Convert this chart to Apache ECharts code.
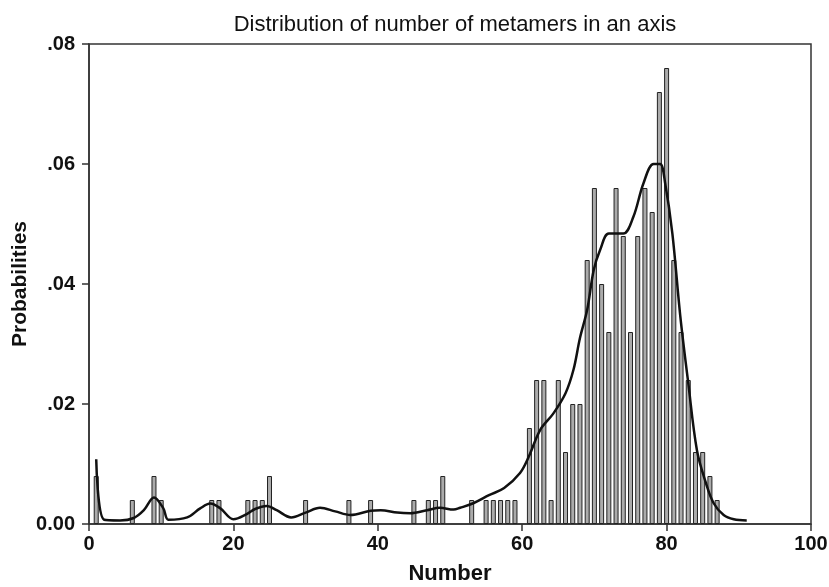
<!DOCTYPE html>
<html>
<head>
<meta charset="utf-8">
<script src="https://cdn.jsdelivr.net/npm/echarts@6/dist/echarts.min.js"></script>
<style>html,body{margin:0;padding:0;background:#fff;}#c{width:829px;height:587px;}</style>
</head>
<body>
<div id="c"></div>
<script>
// Histogram bars: number of metamers and probability
const barNumbers = [1,6,9,10,17,18,22,23,24,25,30,36,39,45,47,48,49,53,55,56,57,58,59,
  61,62,63,64,65,66,67,68,69,70,71,72,73,74,75,76,77,78,79,80,81,82,83,84,85,86,87];
const barProbs = [0.008,0.004,0.008,0.004,0.004,0.004,0.004,0.004,0.004,0.008,0.004,0.004,0.004,0.004,0.004,0.004,0.008,0.004,0.004,0.004,0.004,0.004,0.004,
  0.016,0.024,0.024,0.004,0.024,0.012,0.020,0.020,0.044,0.056,0.040,0.032,0.056,0.048,0.032,0.048,0.056,0.052,0.072,0.076,0.044,0.032,0.024,0.012,0.012,0.008,0.004];
// Density curve
const curveX = [1.0,2.1,4.3,6.2,7.6,9.0,10.3,11.0,13.6,15.4,16.8,18.2,20.0,21.9,23.0,24.6,26.0,28.0,30.0,32.0,34.1,36.2,39.0,40.4,42.7,44.5,46.8,48.6,50.5,51.4,53.3,55.4,57.5,59.7,60.9,62.5,64.3,66.0,67.1,68.0,69.0,69.9,70.8,72.0,74.0,75.4,76.8,78.2,79.1,79.8,80.8,81.9,83.0,84.2,85.4,86.5,87.9,89.3,91.1];
const curveY = [0.0108,0.0007,0.0006,0.0010,0.0023,0.0044,0.0026,0.0007,0.0011,0.0026,0.0034,0.0026,0.0008,0.0017,0.0025,0.0030,0.0023,0.0011,0.0019,0.0027,0.0021,0.0015,0.0022,0.0023,0.0019,0.0018,0.0023,0.0027,0.0024,0.0027,0.0035,0.0048,0.0060,0.0085,0.0112,0.0157,0.0184,0.0218,0.0257,0.0310,0.0357,0.0423,0.0457,0.0484,0.0484,0.0512,0.0568,0.0600,0.0600,0.0568,0.0484,0.0346,0.0235,0.0123,0.0070,0.0035,0.0015,0.0008,0.0006];
const titleText = 'Distribution of number of metamers in an axis';
const xName = 'Number';
const yName = 'Probabilities';

const chart = echarts.init(document.getElementById('c'), null, {renderer: 'canvas'});
const font = 'Liberation Sans, Arial, sans-serif';
chart.setOption({
  animation: false,
  backgroundColor: '#fff',
  title: {
    text: titleText, left: 450, top: 9, textAlign: 'center',
    textStyle: {fontFamily: font, fontSize: 22, fontWeight: 'normal', color: '#111'}
  },
  grid: {left: 89, right: 18, top: 44, bottom: 63, containLabel: false, outerBoundsMode: 'none',
    show: true, borderColor: '#333', borderWidth: 1.5},
  xAxis: {
    type: 'value', min: 0, max: 100, interval: 20,
    name: xName, nameLocation: 'middle', nameGap: 39, nameMoveOverlap: false,
    nameTextStyle: {fontFamily: font, fontSize: 22, fontWeight: 'bold', color: '#111'},
    axisLine: {show: true, lineStyle: {color: '#333', width: 1.5}},
    axisTick: {show: true, length: 7, lineStyle: {color: '#333', width: 1.5}},
    axisLabel: {fontFamily: font, fontSize: 20, fontWeight: 'bold', color: '#111', margin: 10},
    splitLine: {show: false}
  },
  yAxis: {
    type: 'value', min: 0, max: 0.08, interval: 0.02,
    name: yName, nameLocation: 'middle', nameGap: 58, nameRotate: 90, nameMoveOverlap: false,
    nameTextStyle: {fontFamily: font, fontSize: 21, fontWeight: 'bold', color: '#111'},
    axisLine: {show: true, lineStyle: {color: '#333', width: 1.5}},
    axisTick: {show: true, length: 7, lineStyle: {color: '#333', width: 1.5}},
    axisLabel: {fontFamily: font, fontSize: 20, fontWeight: 'bold', color: '#111', margin: 14,
      formatter: v => v === 0 ? '0.00' : v.toFixed(2).replace(/^0/, '')},
    splitLine: {show: false}
  },
  series: [
    {
      type: 'bar', barWidth: 5,
      data: barNumbers.map((x, i) => [x, barProbs[i]]),
      itemStyle: {color: '#ababab', borderColor: '#222', borderWidth: 1}
    },
    {
      type: 'line', smooth: 0.35, showSymbol: false,
      data: curveX.map((x, i) => [x, curveY[i]]),
      lineStyle: {color: '#111', width: 2.5}
    }
  ]
});
</script>
</body>
</html>
